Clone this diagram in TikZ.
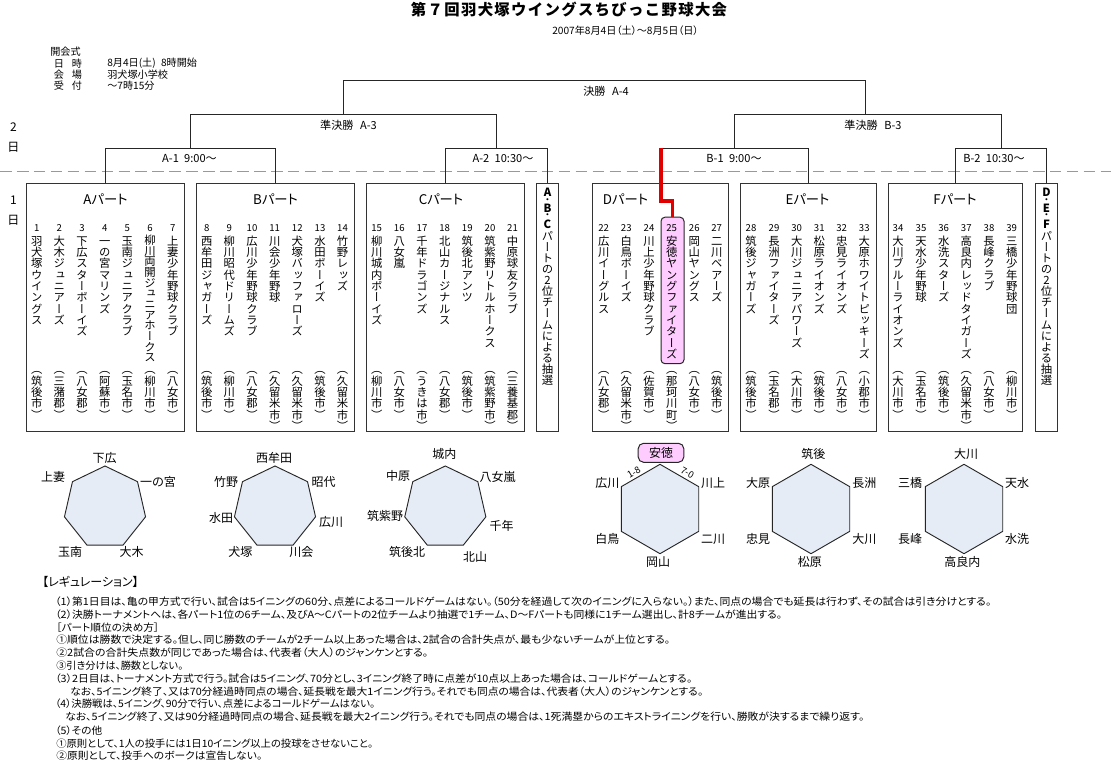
\documentclass[tikz,border=0pt]{standalone}
\usepackage{fontspec}
\usepackage{graphicx}
\usetikzlibrary{shapes.geometric}
\setmainfont[RawFeature={+palt}]{Noto Sans CJK JP}
\newfontfamily\jpvert[RawFeature={+vert}]{Noto Sans CJK JP}
\newfontfamily\jptitle[LetterSpace=9]{Noto Sans CJK JP}
\newlength{\vpitch}
\setlength{\vpitch}{8.5pt}
\newlength{\pxu}
\setlength{\pxu}{0.75pt}
\makeatletter
\newcommand{\vtext}[1]{\edef\vtmp{#1}\vbox{\offinterlineskip\expandafter\vt@loop\expandafter{\vtmp}}}
\newcommand{\vt@loop}[1]{\@tfor\vchar:=#1\do{\hbox to \vpitch{\vrule height .88\vpitch depth .12\vpitch width 0pt\hss\smash{\jpvert\vchar}\hss}}}
\makeatother
\tikzset{
    frame/.style = {draw=black!80, line width=0.75pt, anchor=north west, inner sep=0pt, outer sep=0pt, minimum height=248*\pxu},
    bracket/.style = {draw=black!85, line width=0.75pt},
    pool/.style = {draw=black!85, fill=poolblue, line width=0.7pt, regular polygon, inner sep=0pt, outer sep=0pt},
    teamlabel/.style = {font=\fontsize{9pt}{9pt}\selectfont, inner sep=0pt},
    gamelabel/.style = {font=\fontsize{8.3pt}{8.3pt}\selectfont, inner sep=0pt},
    partlabel/.style = {font=\fontsize{10pt}{10pt}\selectfont, inner sep=0pt},
    infotext/.style = {font=\fontsize{7.6pt}{7.6pt}\selectfont, inner sep=0pt, anchor=west},
    regline/.style = {font=\fontsize{7.6pt}{7.6pt}\selectfont, inner sep=0pt, anchor=west},
    vertname/.style = {font=\fontsize{8.5pt}{8.5pt}\selectfont, inner sep=0pt, anchor=north}
}
\definecolor{poolblue}{HTML}{E6ECF6}
\definecolor{hilite}{HTML}{FFCCFF}
\definecolor{winred}{HTML}{E00000}
\begin{document}
\begin{tikzpicture}[x=0.75pt,y=-0.75pt]
    \useasboundingbox (0,0) rectangle (1111,763);
    \node[inner sep=0pt, font=\fontsize{11.5pt}{11.5pt}\selectfont\bfseries\jptitle] (title) at (569,10) {第７回羽犬塚ウイングスちびっこ野球大会};
    \node[infotext, anchor=center] (date) at (625.5,31) {2007年8月4日（土）～8月5日（日）};
    \node[infotext] (info0) at (50,52) {開会式};
    \node[infotext] (info1) at (53.5,63.3) {日\hspace{6pt}時};
    \node[infotext] (info2) at (53.5,75) {会\hspace{6pt}場};
    \node[infotext] (info3) at (53.5,86) {受\hspace{6pt}付};
    \node[infotext] (info1r) at (107,63.3) {8月4日(土)\hspace{4pt}8時開始};
    \node[infotext] (info2r) at (107,75) {羽犬塚小学校};
    \node[infotext] (info3r) at (107,86) {～7時15分};
    \node[teamlabel] (day2a) at (13.5,127) {2};
    \node[teamlabel] (day2b) at (13.5,147) {日};
    \node[teamlabel] (day1a) at (13.5,200) {1};
    \node[teamlabel] (day1b) at (13.5,220) {日};
    % parts
    \node[frame, minimum width=158*\pxu] (partA) at (26.5,183.5) {};
    \node[frame, minimum width=158*\pxu] (partB) at (196.5,183.5) {};
    \node[frame, minimum width=158*\pxu] (partC) at (366.5,183.5) {};
    \node[frame, minimum width=22*\pxu] (drawABC) at (536.5,183.5) {};
    \node[frame, minimum width=136*\pxu] (partD) at (592.5,183.5) {};
    \node[frame, minimum width=136*\pxu] (partE) at (740.5,183.5) {};
    \node[frame, minimum width=134*\pxu] (partF) at (888.5,183.5) {};
    \node[frame, minimum width=22*\pxu] (drawDEF) at (1035.5,183.5) {};
    \foreach \part/\xx in {A/105.5,B/275.5,C/441,D/625.5,E/807.5,F/955}{
        \node[partlabel] (title\part) at (\xx,199) {\part パート};
    }
    \node[vertname, rounded corners=3pt, draw=black!85, fill=hilite, line width=0.75pt, minimum width=23*\pxu, minimum height=146.5*\pxu] (hilite25) at (672.5,216.7) {};
    \foreach \num/\xx/\team/\city in {
        1/36.7/羽犬塚ウイングス/筑後市, 2/59.3/大木ジュニアーズ/三潴郡, 3/82/下広スターボーイズ/八女郡,
        4/104.7/一の宮マリンズ/阿蘇市, 5/127.3/玉南ジュニアクラブ/玉名市, 6/150/柳川両開ジュニアホークス/柳川市,
        7/172.7/上妻少年野球クラブ/八女市,
        8/206.7/西牟田ジャガーズ/筑後市, 9/229.3/柳川昭代ドリームズ/柳川市, 10/252/広川少年野球クラブ/八女郡,
        11/274.7/川会少年野球/久留米市, 12/297.3/犬塚バッファローズ/久留米市, 13/320/水田ボーイズ/筑後市,
        14/342.5/竹野レッズ/久留米市,
        15/376.7/柳川城内ボーイズ/柳川市, 16/399.3/八女嵐/八女市, 17/422/千年ドラゴンズ/うきは市,
        18/444.7/北山カージナルス/八女郡, 19/467.3/筑後北アンツ/筑後市, 20/490/筑紫野リトルホークス/筑紫野市,
        21/512.5/中原球友クラブ/三養基郡,
        22/603.7/広川イーグルス/八女郡, 23/626.3/白鳥ボーイズ/久留米市, 24/649/川上少年野球クラブ/佐賀市,
        25/671.7/安徳ヤングファイターズ/那珂川町, 26/694.3/岡山ヤングス/八女市, 27/716.7/二川ベアーズ/筑後市,
        28/751/筑後ジャガーズ/筑後市, 29/774/長洲ファイターズ/玉名郡, 30/796.7/大川ジュニアパワーズ/大川市,
        31/819.3/松原ライオンズ/筑後市, 32/841.7/忠見ライオンズ/八女市, 33/864.3/大原ホワイトピッキーズ/小郡市,
        34/898/大川ブルーライオンズ/大川市, 35/921/天水少年野球/玉名市, 36/943.7/水洗スターズ/筑後市,
        37/966.3/高良内レッドタイガーズ/久留米市, 38/989/長峰クラブ/八女市, 39/1011.7/三橋少年野球団/柳川市}{
        \node[inner sep=0pt, font=\fontsize{7.2pt}{7.2pt}\selectfont] (num\num) at (\xx,227.7) {\num};
        \node[vertname] (team\num) at (\xx,235) {\ifnum\num=6 \setlength{\vpitch}{8pt}\fi\vtext{\team}};
        \node[vertname] (city\num) at (\xx,363.5) {\vtext{（\city）}};
    }
    \foreach \idx/\cha/\chb/\fsz/\yy in {1/A/D/8.5/192.7, 2/・/・/5.5/200.4, 3/B/E/8.5/208, 4/・/・/5.5/216, 5/C/F/8.5/224}{
        \node[inner sep=0pt, font=\fontsize{\fsz pt}{\fsz pt}\selectfont\bfseries] (abc\idx) at (547.5,\yy) {\cha};
        \node[inner sep=0pt, font=\fontsize{\fsz pt}{\fsz pt}\selectfont\bfseries] (def\idx) at (1046.5,\yy) {\chb};
    }
    \node[vertname] (abctext) at (547.5,230.5) {\setlength{\vpitch}{8.3pt}\vtext{パートの2位チームによる抽選}};
    \node[vertname] (deftext) at (1046.5,230.5) {\setlength{\vpitch}{8.3pt}\vtext{パートの2位チームによる抽選}};
    % tournament
    \coordinate (dashL) at (0,171.5);
    \coordinate (dashR) at (1111,171.5);
    \draw[black!40, line width=0.75pt, dash pattern=on 8.7pt off 4pt] (dashL) -- (dashR);
    \coordinate (a1top) at (190.5,148.5);
    \coordinate (a2top) at (496.5,148.5);
    \coordinate (b1top) at (734.5,148.5);
    \coordinate (b2top) at (1001.5,148.5);
    \coordinate (a3top) at (343.5,114.5);
    \coordinate (b3top) at (865.5,114.5);
    \coordinate (a4top) at (605,80.5);
    \draw[bracket] (partA.north) |- (a1top) -| (partB.north);
    \draw[bracket] (partC.north) |- (a2top) -| (drawABC.north);
    \draw[bracket] (partD.north) |- (b1top) -| (partE.north);
    \draw[bracket] (partF.north) |- (b2top) -| (drawDEF.north);
    \draw[bracket] (a1top) |- (a3top) -| (a2top);
    \draw[bracket] (b1top) |- (b3top) -| (b2top);
    \draw[bracket] (a3top) |- (a4top) -| (b3top);
    \coordinate (redtop) at (661,148);
    \coordinate (redbend) at (661,201);
    \draw[winred, line width=2.6pt] (redtop) -- (redbend) -| (hilite25.north);
    \node[gamelabel] (final) at (606,91) {決勝\hspace{5pt}A-4};
    \node[gamelabel] (semiA) at (348.5,125) {準決勝\hspace{5pt}A-3};
    \node[gamelabel] (semiB) at (873,125) {準決勝\hspace{5pt}B-3};
    \node[gamelabel] (gameA1) at (189.5,159) {A-1\hspace{4pt}9:00～};
    \node[gamelabel] (gameA2) at (503,159) {A-2\hspace{4pt}10:30～};
    \node[gamelabel] (gameB1) at (734,159) {B-1\hspace{4pt}9:00～};
    \node[gamelabel] (gameB2) at (994,159) {B-2\hspace{4pt}10:30～};
    % pools
    \foreach \pname/\xx in {hepA/105,hepB/275,hepC/445.3}{
        \node[pool, regular polygon sides=7, minimum size=83.2*\pxu] (\pname) at (\xx,507.6) {};
    }
    \foreach \pname/\xx in {hexD/660,hexE/811,hexF/964}{
        \node[pool, regular polygon sides=6, shape border rotate=30, minimum size=89.4*\pxu] (\pname) at (\xx,509) {};
    }
    \foreach \lname/\xx/\yy/\txt in {
        a1/104.5/457.7/下広, a2/53/476.7/上妻, a3/158/482.3/一の宮, a4/70/552/玉南, a5/131.6/552/大木,
        b1/274/458/西牟田, b2/226.2/481.7/竹野, b3/323.6/482.3/昭代, b4/221/518.3/水田, b5/331/522.3/広川, b6/240.4/552/犬塚, b7/301.3/552/川会,
        c1/444.3/454/城内, c2/398/476.3/中原, c3/497.7/477.3/八女嵐, c4/385/515.7/筑紫野, c5/501.7/525.7/千年, c6/407/552/筑後北, c7/475/556.7/北山,
        d1/607.3/482.7/広川, d2/713.2/482.7/川上, d3/607.3/539.3/白鳥, d4/713.2/539.3/二川, d5/658/561.7/岡山,
        e1/813.3/454.3/筑後, e2/758/482.7/大原, e3/864.3/482.7/長洲, e4/758/539/忠見, e5/864.3/539/大川, e6/809.8/561.7/松原,
        f1/966/454.3/大川, f2/910/482.7/三橋, f3/1017/482.7/天水, f4/910/539/長峰, f5/1017/539/水洗, f6/962.3/561.7/高良内}{
        \node[teamlabel] (lab\lname) at (\xx,\yy) {\txt};
    }
    \node[teamlabel, draw=black!85, fill=hilite, rounded corners=4pt, line width=0.75pt, minimum width=45.6*\pxu, minimum height=19*\pxu] (seedD) at (661,452.8) {安徳};
    \node[inner sep=0pt, rotate=30, font=\fontsize{7pt}{7pt}\selectfont] (scoreL) at (633.8,472.7) {1-8};
    \node[inner sep=0pt, rotate=-30, font=\fontsize{7pt}{7pt}\selectfont] (scoreR) at (687.3,472.7) {7-0};
    % regulation
    \node[anchor=west, inner sep=0pt, font=\fontsize{9pt}{9pt}\selectfont] (regtitle) at (42,582) {【レギュレーション】};
    \foreach \rnum/\xx/\yy/\rw/\txt in {
        1/55/601.7/936/{（1）第1日目は、亀の甲方式で行い、試合は5イニングの60分、点差によるコールドゲームはない。（50分を経過して次のイニングに入らない。）また、同点の場合でも延長は行わず、その試合は引き分けとする。},
        2/55/614.7/727/{（2）決勝トーナメントへは、各パート1位の6チーム、及びA～Cパートの2位チームより抽選で1チーム、D～Fパートも同様に1チーム選出し、計8チームが進出する。},
        3/56/627.3/103/{［パート順位の決め方］},
        4/56/640/614/{①順位は勝数で決定する。但し、同じ勝数のチームが2チーム以上あった場合は、2試合の合計失点が、最も少ないチームが上位とする。},
        5/56/653/372/{②2試合の合計失点数が同じであった場合は、代表者（大人）のジャンケンとする。},
        6/56/666/127/{③引き分けは、勝数としない。},
        7/55/678.5/637/{（3）2日目は、トーナメント方式で行う。試合は5イニング、70分とし、3イニング終了時に点差が10点以上あった場合は、コールドゲームとする。},
        8/70/691.5/633/{なお、5イニング終了、又は70分経過時同点の場合、延長戦を最大1イニング行う。それでも同点の場合は、代表者（大人）のジャンケンとする。},
        9/55/704/320/{（4）決勝戦は、5イニング、90分で行い、点差によるコールドゲームはない。},
        10/65/717/799/{なお、5イニング終了、又は90分経過時同点の場合、延長戦を最大2イニング行う。それでも同点の場合は、1死満塁からのエキストライニングを行い、勝敗が決するまで繰り返す。},
        11/55/730.5/47/{（5）その他},
        12/56/743.5/317/{①原則として、1人の投手には1日10イニング以上の投球をさせないこと。},
        13/56/756/206/{②原則として、投手へのボークは宣告しない。}}{
        \node[regline] (reg\rnum) at (\xx,\yy) {\resizebox{\rw\pxu}{\height}{\txt}};
    }
\end{tikzpicture}
\end{document}
